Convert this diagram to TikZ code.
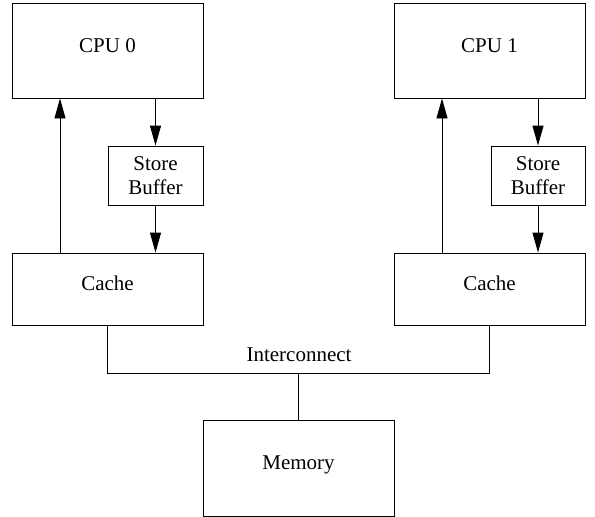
\documentclass[tikz,border=0pt]{standalone}
\usepackage{fontspec}
\setmainfont{Liberation Serif}
\usetikzlibrary{arrows.meta}
\begin{document}
\begin{tikzpicture}[x=1pt,y=-1pt,
  box/.style={draw,line width=0.9pt,inner sep=0pt,align=center,font=\fontsize{21}{24}\selectfont},
  one/.style={text height=17pt,text depth=14pt},
  conn/.style={line width=0.9pt},
  arr/.style={line width=0.9pt,-{Triangle[length=20pt,width=11pt]}}]
\useasboundingbox (0,0) rectangle (595,517);
\node[box,one,minimum width=191pt,minimum height=95pt] (cpu0) at (107.5,50.5) {CPU 0};
\node[box,minimum width=95pt,minimum height=59pt] (sb0) at (155.5,175.5) {Store\\Buffer};
\node[box,one,minimum width=191pt,minimum height=72pt] (cache0) at (107.5,289) {Cache};
\node[box,one,minimum width=191pt,minimum height=95pt] (cpu1) at (489.5,50.5) {CPU 1};
\node[box,minimum width=94pt,minimum height=59pt] (sb1) at (538,175.5) {Store\\Buffer};
\node[box,one,minimum width=191pt,minimum height=72pt] (cache1) at (489.5,289) {Cache};
\node[box,one,minimum width=191pt,minimum height=96pt] (mem) at (298.5,468) {Memory};
\node[font=\fontsize{21}{24}\selectfont,inner sep=0pt,anchor=base] (ic) at (299,361.5) {Interconnect};
\coordinate (j0) at (107.5,373);
\coordinate (j1) at (489.5,373);
\coordinate (jm) at (298.5,373);
% CPU 0 side
\draw[arr] ([xshift=-47.5pt]cache0.north) -- ([xshift=-47.5pt]cpu0.south);
\draw[arr] (cpu0.south -| sb0.north) -- (sb0.north);
\draw[arr] (sb0.south) -- (sb0.south |- cache0.north);
% CPU 1 side
\draw[arr] ([xshift=-47.5pt]cache1.north) -- ([xshift=-47.5pt]cpu1.south);
\draw[arr] (cpu1.south -| sb1.north) -- (sb1.north);
\draw[arr] (sb1.south) -- (sb1.south |- cache1.north);
% interconnect
\draw[conn] (cache0.south) -- (j0) -- (j1) -- (cache1.south);
\draw[conn] (jm) -- (mem.north);
\end{tikzpicture}
\end{document}
